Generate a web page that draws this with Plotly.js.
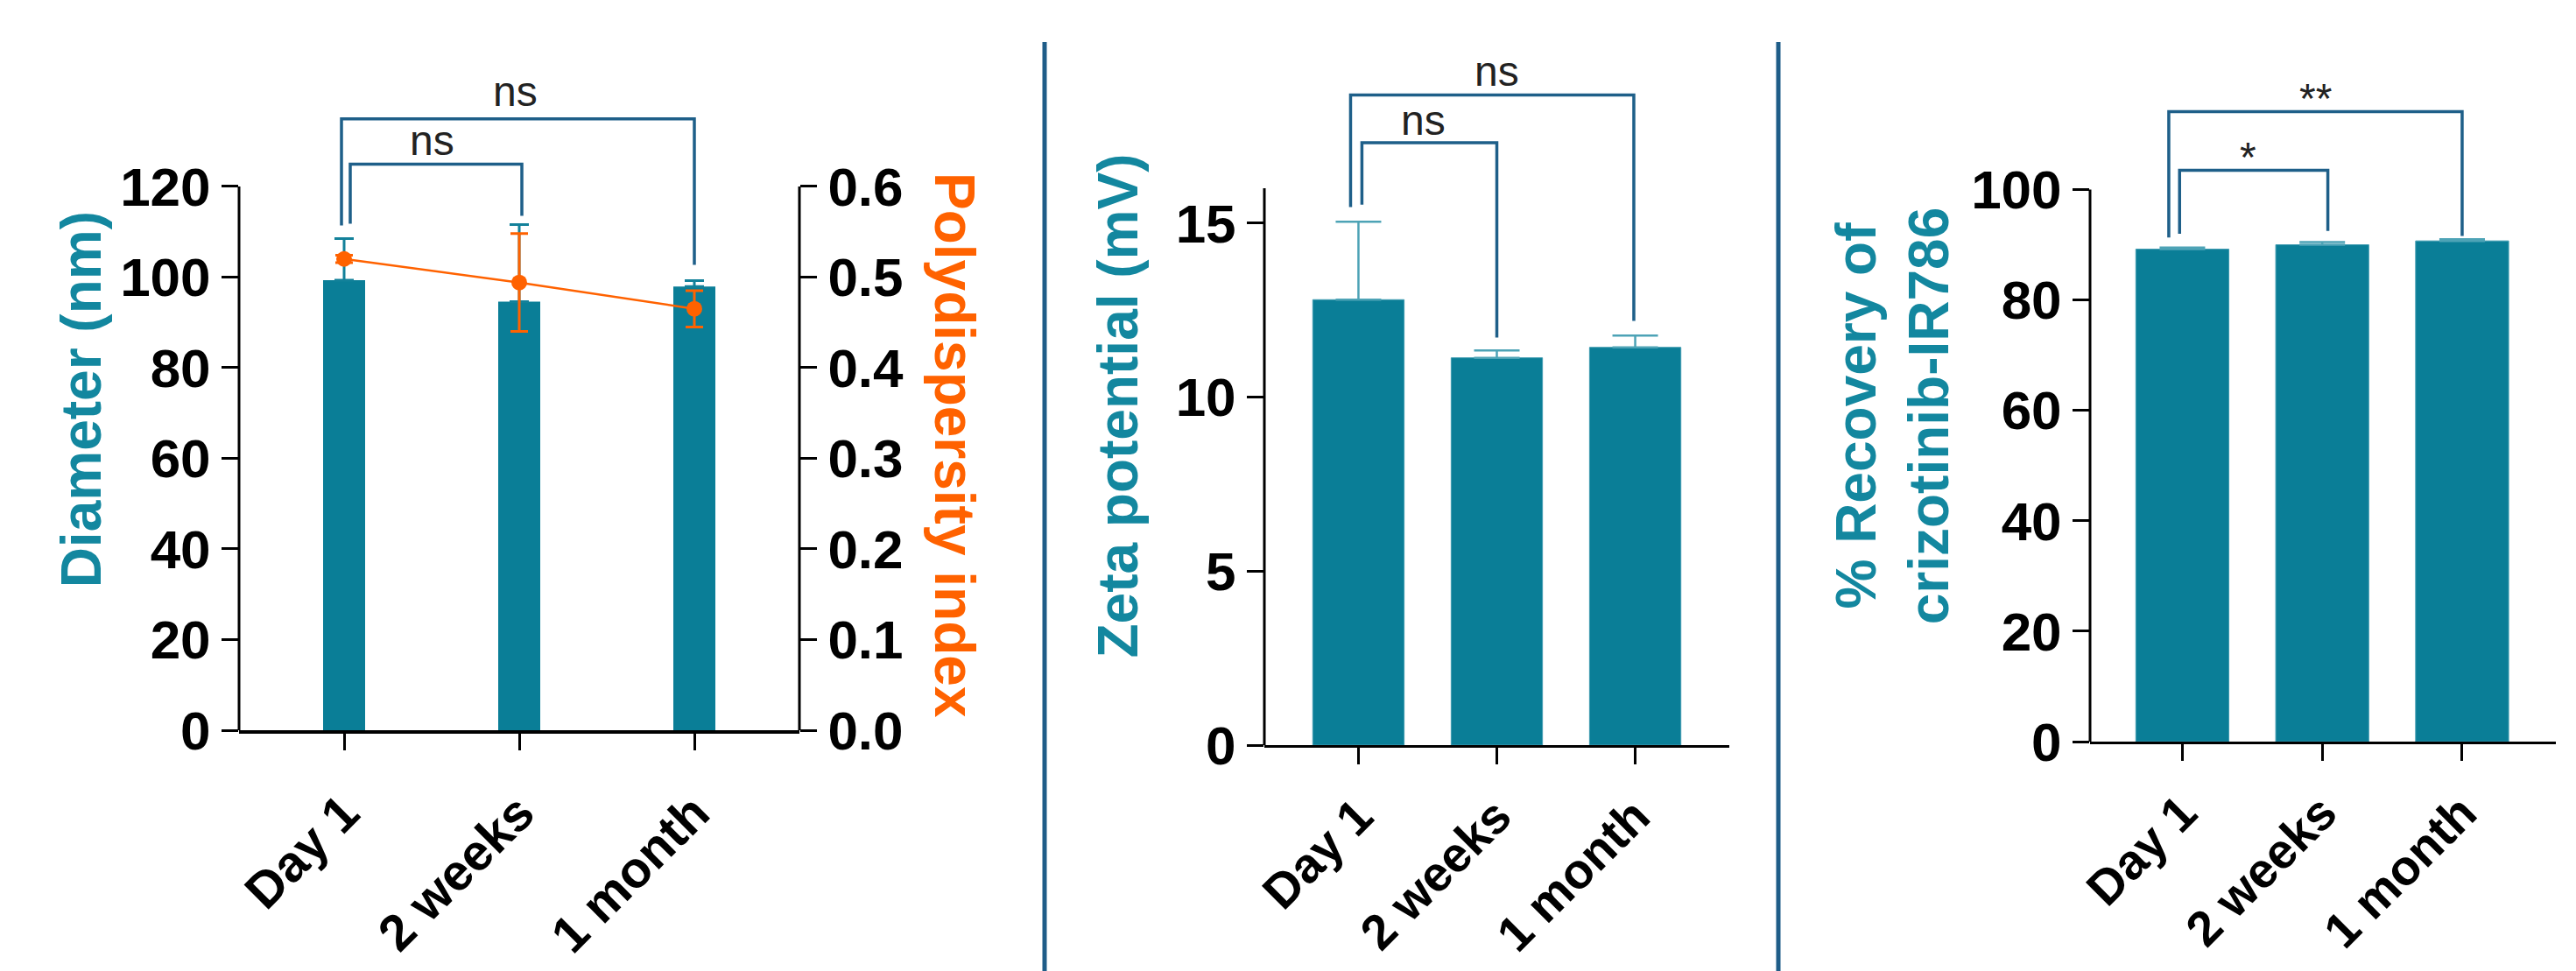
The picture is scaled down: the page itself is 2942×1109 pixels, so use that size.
<!DOCTYPE html>
<html><head><meta charset="utf-8">
<script src="https://cdn.plot.ly/plotly-3.0.1.min.js"></script>
<style>html,body{margin:0;padding:0;background:#fff;} #chart{width:2942px;height:1109px;}</style>
</head><body><div id="chart"></div>
<script>
// ---------- data ----------
const categories = ['Day 1', '2 weeks', '1 month'];
const diameterNm = [99.3, 94.6, 97.9];
const diameterErr = [9.2, 17.0, 1.3];
const pdiValues = [0.520, 0.494, 0.465];
const pdiErr = [0.004, 0.054, 0.020];
const zetaMv = [12.80, 11.13, 11.43];
const zetaErr = [2.24, 0.21, 0.34];
const recoveryPct = [89.2, 90.0, 90.7];
const recoveryErr = [0.3, 0.5, 0.3];

const diameterTicks = [0, 20, 40, 60, 80, 100, 120];
const pdiTicks = [0, 0.1, 0.2, 0.3, 0.4, 0.5, 0.6];
const zetaTicks = [0, 5, 10, 15];
const recoveryTicks = [0, 20, 40, 60, 80, 100];

// axis line extents (data units)
const diameterAxisMax = 120, pdiAxisMax = 0.6, zetaAxisMax = 16, recoveryAxisMax = 100;

// significance brackets: [fromIdx, toIdx, topY, leftFootY, rightFootY, label, labelX, labelY]
const diameterBrackets = [
  [-0.015, 2.0, 134.9, 111.4, 102.7, 'ns', 0.975, 141.0],
  [0.035, 1.015, 124.9, 111.8, 113.5, 'ns', 0.5, 130.2]
];
const zetaBrackets = [
  [-0.057, 1.99, 18.68, 15.46, 12.19, 'ns', 1.0, 19.37],
  [0.025, 1.0, 17.31, 15.53, 11.71, 'ns', 0.47, 17.96]
];
const recoveryBrackets = [
  [-0.097, 2.0, 114.1, 91.3, 91.6, '**', 0.95, 116.5],
  [-0.02, 1.04, 103.5, 92.0, 92.5, '*', 0.47, 105.8]
];

// ---------- style ----------
const FONT = 'Arial, "Liberation Sans", sans-serif';
const W = 2942, H = 1109;
const TEAL = '#0a7e97', TITLE_TEAL = '#13879f', ORANGE = '#ff6200';
const ERR_LIGHT = '#4da3b6', BRACKET = '#1e5f89', SEP = '#1f5d88';

const px = v => v / W;
const py = v => 1 - v / H;

const traces = [
  {type: 'bar', x: categories, y: diameterNm, xaxis: 'x', yaxis: 'y', width: 0.24,
   marker: {color: TEAL}, showlegend: false,
   error_y: {type: 'data', symmetric: false, array: diameterErr, arrayminus: [0, 0, 0],
             color: '#13819a', thickness: 3, width: 11}},
  {type: 'scatter', mode: 'lines+markers', x: categories, y: pdiValues, xaxis: 'x', yaxis: 'y2',
   line: {color: ORANGE, width: 2.5}, marker: {color: ORANGE, size: 18}, showlegend: false,
   error_y: {type: 'data', array: pdiErr, color: ORANGE, thickness: 3, width: 10}},
  {type: 'bar', x: categories, y: zetaMv, xaxis: 'x2', yaxis: 'y3', width: 0.66,
   marker: {color: TEAL, line: {color: '#3f9bb0', width: 1}}, showlegend: false,
   error_y: {type: 'data', symmetric: false, array: zetaErr, arrayminus: [0, 0, 0],
             color: ERR_LIGHT, thickness: 2.5, width: 26}},
  {type: 'bar', x: categories, y: recoveryPct, xaxis: 'x3', yaxis: 'y4', width: 0.665,
   marker: {color: TEAL, line: {color: '#3f9bb0', width: 1}}, showlegend: false,
   error_y: {type: 'data', symmetric: false, array: recoveryErr, arrayminus: [0, 0, 0],
             color: ERR_LIGHT, thickness: 2.5, width: 26}}
];

function xAx(domain, anchor, range, lw, standoff, fs) {
  return {domain: domain, anchor: anchor, type: 'category', range: range,
    showline: true, linecolor: '#000', linewidth: lw, mirror: false,
    ticks: 'outside', ticklen: 19, tickwidth: 3, tickcolor: '#000', ticklabelstandoff: standoff,
    tickangle: -45, tickfont: {family: FONT, size: fs, color: '#000', weight: 700},
    showgrid: false, zeroline: false, automargin: false, fixedrange: true};
}
function yAx(domain, anchor, range, ticks, title, standoff, fmt) {
  return {domain: domain, anchor: anchor, range: range, tickvals: ticks, tickformat: fmt || '',
    showline: false, ticks: 'outside', ticklen: 19, tickwidth: 3, tickcolor: '#000',
    tickfont: {family: FONT, size: 62, color: '#000', weight: 700},
    showgrid: false, zeroline: false, automargin: false, fixedrange: true,
    title: {text: title, standoff: standoff, font: {family: FONT, size: 64, color: TITLE_TEAL, weight: 700}}};
}

const layout = {
  width: W, height: H, margin: {l: 0, r: 0, t: 0, b: 0, pad: 0},
  paper_bgcolor: '#fff', plot_bgcolor: 'rgba(0,0,0,0)',
  font: {family: FONT},
  showlegend: false,
  xaxis: xAx([px(273), px(913)], 'y', [-0.6, 2.6], 4, 14, 58),
  yaxis: yAx([py(834), py(78.4)], 'x', [0, 146], diameterTicks, 'Diameter (nm)', 0),
  yaxis2: Object.assign(yAx([py(834), py(78.4)], 'x', [0, 0.73], pdiTicks, '', 0, '.1f'),
                        {overlaying: 'y', side: 'right'}),
  xaxis2: xAx([px(1444), px(1975)], 'y3', [-0.68, 2.68], 3, 4, 56),
  yaxis3: yAx([py(851), py(76)], 'x2', [0, 19.5], zetaTicks, 'Zeta potential (mV)', 22),
  xaxis3: xAx([px(2387), px(2919)], 'y4', [-0.66, 2.67], 3, 4, 56),
  yaxis4: yAx([py(847), py(103)], 'x3', [0, 118], recoveryTicks, '% Recovery of<br>crizotinib-IR786', 4),
  shapes: [], annotations: []
};

// axis spines limited to their tick range
layout.shapes.push(
  {type: 'line', xref: 'x domain', yref: 'y', x0: 0, x1: 0, y0: 0, y1: diameterAxisMax, line: {color: '#000', width: 3}},
  {type: 'line', xref: 'x domain', yref: 'y2', x0: 1, x1: 1, y0: 0, y1: pdiAxisMax, line: {color: '#000', width: 3}},
  {type: 'line', xref: 'x2 domain', yref: 'y3', x0: 0, x1: 0, y0: 0, y1: zetaAxisMax, line: {color: '#000', width: 3}},
  {type: 'line', xref: 'x3 domain', yref: 'y4', x0: 0, x1: 0, y0: 0, y1: recoveryAxisMax, line: {color: '#000', width: 3}}
);

// panel separators
layout.shapes.push(
  {type: 'line', xref: 'paper', yref: 'paper', x0: px(1193), x1: px(1193), y0: 0, y1: py(48), line: {color: SEP, width: 5}},
  {type: 'line', xref: 'paper', yref: 'paper', x0: px(2031), x1: px(2031), y0: 0, y1: py(48), line: {color: SEP, width: 5}}
);

function addBrackets(list, xr, yr) {
  list.forEach(b => {
    const [a, c, top, lf, rf, label, lx, ly] = b;
    layout.shapes.push({type: 'path', xref: xr, yref: yr,
      path: 'M ' + a + ',' + lf + ' L ' + a + ',' + top + ' L ' + c + ',' + top + ' L ' + c + ',' + rf,
      line: {color: BRACKET, width: 3.5}});
    layout.annotations.push({xref: xr, yref: yr, x: lx, y: ly, text: label, showarrow: false,
      font: {family: FONT, size: 48, color: '#222'}});
  });
}
addBrackets(diameterBrackets, 'x', 'y');
addBrackets(zetaBrackets, 'x2', 'y3');
addBrackets(recoveryBrackets, 'x3', 'y4');

// right-hand title (reads top to bottom)
layout.annotations.push({xref: 'paper', yref: 'paper', x: px(1090), y: py(508), textangle: 90,
  text: 'Polydispersity index', showarrow: false,
  font: {family: FONT, size: 64, color: ORANGE, weight: 700}});

Plotly.newPlot('chart', traces, layout, {staticPlot: true, displayModeBar: false});
</script>
</body></html>
